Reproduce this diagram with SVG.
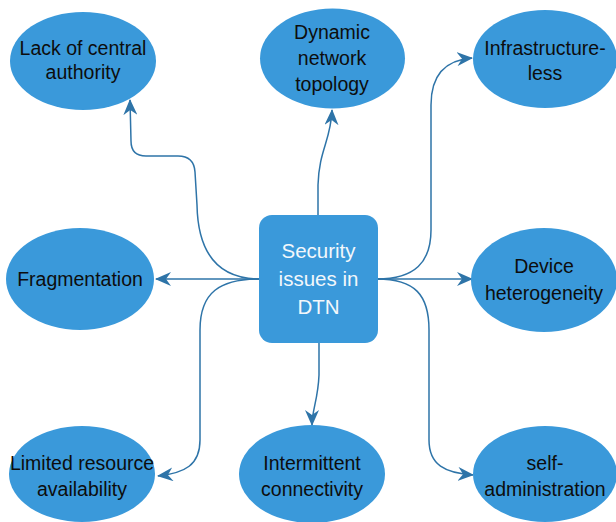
<svg xmlns="http://www.w3.org/2000/svg" width="616" height="522" viewBox="0 0 616 522">
<defs>
<style>
.node ellipse{fill:#3A99DA;}
.lbl{font-family:"Liberation Sans",Arial,sans-serif;font-size:19.5px;fill:#0d0d0d;text-anchor:middle;}
.ctr{font-family:"Liberation Sans",Arial,sans-serif;font-size:20.5px;fill:#F2F7FB;text-anchor:middle;}
.edge{fill:none;stroke:#2E74A8;stroke-width:1.5;marker-end:url(#arr);}
</style>
<marker id="arr" viewBox="0 0 16 14" refX="15" refY="7" markerWidth="16" markerHeight="14" markerUnits="userSpaceOnUse" orient="auto">
<path d="M0,0 L16,7 L0,14 L5,7 Z" fill="#2E74A8"/>
</marker>
</defs>
<rect width="616" height="522" fill="#fff"/>
<g id="connectors">
<path class="edge" d="M260,279 C222,279 198,258 197,205 L195,172 Q194,156 178,156 L146,156 Q131,156 131,141 L130,100"/>
<path class="edge" d="M318,216 L318,185 C319,150 331,140 332,110"/>
<path class="edge" d="M377,279 C415,279 431,262 431,230 L431,105 C431,75 445,60 472,58"/>
<path class="edge" d="M260,279 L156,279"/>
<path class="edge" d="M377,279 L472,279"/>
<path class="edge" d="M260,279 C220,279 200,292 200,330 L200,440 C200,465 185,473 158,476"/>
<path class="edge" d="M319,343 L319,375 C318,400 312,410 312,425"/>
<path class="edge" d="M377,279 C415,279 429,295 429,330 L429,440 C429,465 445,473 473,475"/>
</g>
<g id="center" class="node">
<rect x="259" y="215" width="119" height="128" rx="13" fill="#3A99DA"/>
<text class="ctr" x="318.5" y="258">Security</text>
<text class="ctr" x="318.5" y="286">issues in</text>
<text class="ctr" x="318.5" y="314">DTN</text>
</g>
<g id="lack" class="node">
<ellipse cx="83" cy="61" rx="73" ry="49"/>
<text class="lbl" x="83" y="55">Lack of central</text>
<text class="lbl" x="83" y="79">authority</text>
</g>
<g id="dynamic" class="node">
<ellipse cx="332.5" cy="58.5" rx="72.5" ry="50"/>
<text class="lbl" x="332" y="39">Dynamic</text>
<text class="lbl" x="332" y="65">network</text>
<text class="lbl" x="332" y="91">topology</text>
</g>
<g id="infra" class="node">
<ellipse cx="545" cy="59" rx="72" ry="49"/>
<text class="lbl" x="545" y="55">Infrastructure-</text>
<text class="lbl" x="545" y="80">less</text>
</g>
<g id="frag" class="node">
<ellipse cx="80" cy="279" rx="74" ry="51"/>
<text class="lbl" x="80" y="286">Fragmentation</text>
</g>
<g id="device" class="node">
<ellipse cx="544" cy="280" rx="73" ry="52"/>
<text class="lbl" x="544" y="273">Device</text>
<text class="lbl" x="544" y="300">heterogeneity</text>
</g>
<g id="limited" class="node">
<ellipse cx="82" cy="474" rx="73" ry="48"/>
<text class="lbl" x="82" y="470">Limited resource</text>
<text class="lbl" x="82" y="496">availability</text>
</g>
<g id="intermittent" class="node">
<ellipse cx="312" cy="474" rx="73" ry="49"/>
<text class="lbl" x="312" y="470">Intermittent</text>
<text class="lbl" x="312" y="496">connectivity</text>
</g>
<g id="selfadmin" class="node">
<ellipse cx="545" cy="474" rx="72" ry="48"/>
<text class="lbl" x="545" y="470">self-</text>
<text class="lbl" x="545" y="496">administration</text>
</g>
</svg>
